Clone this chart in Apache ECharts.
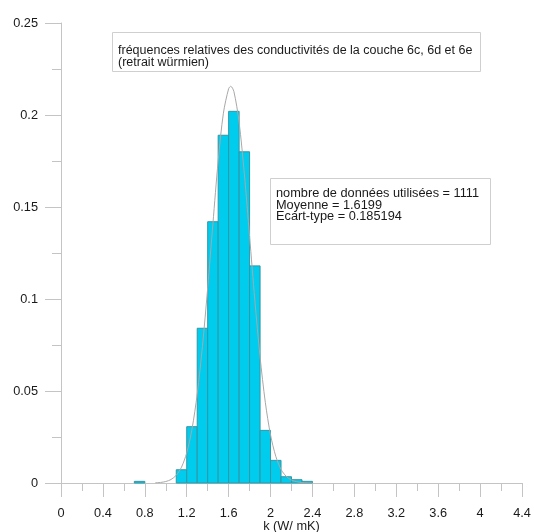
<!DOCTYPE html>
<html>
<head>
<meta charset="utf-8">
<script src="https://cdn.jsdelivr.net/npm/echarts@6/dist/echarts.min.js"></script>
<style>
  html, body { margin: 0; padding: 0; background: #fff; }
  #chart { width: 534px; height: 532px; }
</style>
</head>
<body>
<div id="chart"></div>
<script>
// Histogram of thermal conductivity k (W/mK), bins of width 0.1
const binWidth = 0.1;
const binLeft = [0.7, 1.1, 1.2, 1.3, 1.4, 1.5, 1.6, 1.7, 1.8, 1.9, 2.0, 2.1, 2.2, 2.3];
const binFreq = [0.0009, 0.0072, 0.0306, 0.0841, 0.1420, 0.1890, 0.2020, 0.1800, 0.1180, 0.0286, 0.0123, 0.0034, 0.0018, 0.0009];

// Fitted normal curve (scaled to the bin width)
const curveK = [0.9, 0.95, 1.0, 1.05, 1.1, 1.15, 1.2, 1.25, 1.3, 1.35, 1.4, 1.45, 1.5, 1.55, 1.6, 1.62, 1.65, 1.7, 1.75, 1.8, 1.85, 1.9, 1.95, 2.0, 2.05, 2.1, 2.15, 2.2, 2.25, 2.3, 2.35, 2.4];
const curveF = [0.0001, 0.0003, 0.0008, 0.0019, 0.0042, 0.0086, 0.0164, 0.0292, 0.0483, 0.0743, 0.1060, 0.1410, 0.1750, 0.2010, 0.2143, 0.2156, 0.2128, 0.1960, 0.1680, 0.1340, 0.0995, 0.0685, 0.0439, 0.0261, 0.0145, 0.0074, 0.0036, 0.0016, 0.0007, 0.0002, 0.0001, 0.0000];

// Axis ticks
const xTicks = { min: 0, max: 4.4, step: 0.4 };
const yTicks = { min: 0, max: 0.25, step: 0.05 };

const titleText = 'fréquences relatives des conductivités de la couche 6c, 6d et 6e\n(retrait würmien)';
const statsText = 'nombre de données utilisées = 1111\nMoyenne = 1.6199\nEcart-type = 0.185194';

const FONT = '"Liberation Sans", Arial, sans-serif';
const axisGray = '#c4c4c4';
const labelColor = '#1a1a1a';

const chart = echarts.init(document.getElementById('chart'), null, { renderer: 'canvas' });

const histData = binLeft.map((x, i) => [x, x + binWidth, binFreq[i]]);
const curveData = curveK.map((x, i) => [x, curveF[i]]);

function renderBin(params, api) {
  const p0 = api.coord([api.value(0), api.value(2)]);
  const p1 = api.coord([api.value(1), 0]);
  return {
    type: 'rect',
    shape: { x: p0[0], y: p0[1], width: p1[0] - p0[0], height: p1[1] - p0[1] },
    style: { fill: '#00CCEE', stroke: '#3296a4', lineWidth: 1 }
  };
}

chart.setOption({
  animation: false,
  backgroundColor: '#fff',
  grid: { left: 61, right: 12, top: 23, bottom: 49, containLabel: false, outerBoundsMode: 'none' },
  title: [
    {
      text: titleText,
      left: 112, top: 33,
      padding: [12, 8, 2, 6],
      borderColor: '#cfcfcf', borderWidth: 1,
      textStyle: { fontFamily: FONT, fontSize: 12.5, fontWeight: 'normal', color: labelColor, lineHeight: 12 }
    },
    {
      text: statsText,
      left: 270, top: 179,
      padding: [9, 12, 21, 6],
      borderColor: '#cfcfcf', borderWidth: 1,
      backgroundColor: '#fff',
      textStyle: { fontFamily: FONT, fontSize: 12.75, fontWeight: 'normal', color: labelColor, lineHeight: 11.5 }
    }
  ],
  xAxis: {
    type: 'value',
    min: xTicks.min, max: xTicks.max, interval: xTicks.step,
    name: 'k (W/ mK)',
    nameLocation: 'middle',
    nameGap: 37,
    nameMoveOverlap: false,
    nameTextStyle: { fontFamily: FONT, fontSize: 12.75, color: labelColor },
    axisLine: { show: true, onZero: false, lineStyle: { color: axisGray, width: 1 } },
    axisTick: { show: true, inside: false, length: 14, lineStyle: { color: axisGray } },
    minorTick: { show: true, splitNumber: 2, length: 8, lineStyle: { color: axisGray } },
    axisLabel: { margin: 24, fontFamily: FONT, fontSize: 12.75, color: labelColor, showMinLabel: true, showMaxLabel: true },
    splitLine: { show: false }
  },
  yAxis: {
    type: 'value',
    min: yTicks.min, max: yTicks.max, interval: yTicks.step,
    axisLine: { show: true, onZero: false, lineStyle: { color: axisGray, width: 1 } },
    axisTick: { show: true, inside: false, length: 16, lineStyle: { color: axisGray } },
    minorTick: { show: true, splitNumber: 2, length: 9, lineStyle: { color: axisGray } },
    axisLabel: { margin: 23, fontFamily: FONT, fontSize: 12.75, color: labelColor },
    splitLine: { show: false }
  },
  series: [
    {
      type: 'custom',
      renderItem: renderBin,
      data: histData,
      encode: { x: [0, 1], y: 2 },
      z: 2
    },
    {
      type: 'line',
      data: curveData,
      smooth: 0.3,
      showSymbol: false,
      lineStyle: { color: '#a8a8a8', width: 1 },
      z: 3
    }
  ]
});
</script>
</body>
</html>
